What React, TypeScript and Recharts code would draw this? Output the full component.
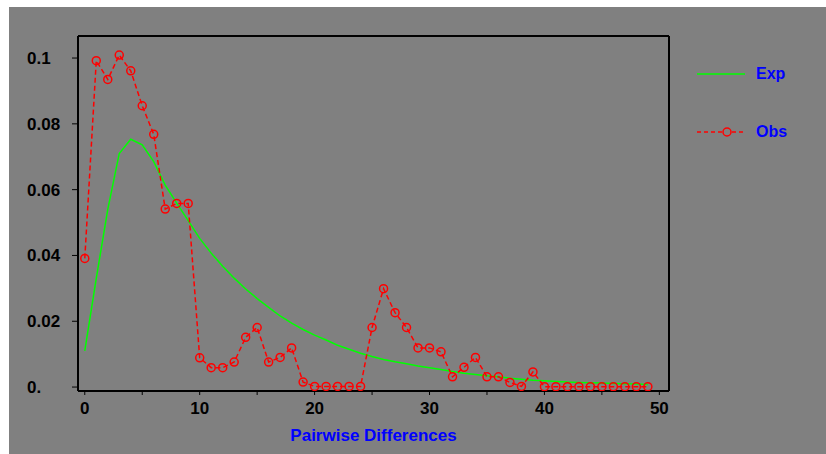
import { LineChart, Line, XAxis, YAxis, Legend, ReferenceLine } from 'recharts';

// pairwise differences (x categories)
const diffs = [
  0, 1, 2, 3, 4, 5, 6, 7, 8, 9, 10, 11, 12, 13, 14, 15, 16, 17, 18, 19, 20, 21, 22, 23, 24,
  25, 26, 27, 28, 29, 30, 31, 32, 33, 34, 35, 36, 37, 38, 39, 40, 41, 42, 43, 44, 45, 46, 47, 48, 49,
];

// expected mismatch distribution
const expValues = [
  0.011, 0.033, 0.054, 0.071, 0.0753, 0.0736, 0.0685, 0.0614, 0.0559, 0.0506,
  0.0452, 0.0407, 0.0367, 0.0331, 0.0298, 0.0269, 0.0242, 0.0216, 0.0194, 0.0175,
  0.0158, 0.0143, 0.0127, 0.0115, 0.0103, 0.0093, 0.0084, 0.0077, 0.0071, 0.0064,
  0.0059, 0.0053, 0.0047, 0.0042, 0.0038, 0.0034, 0.0031, 0.0027, 0.0024, 0.0021,
  0.0019, 0.0017, 0.0015, 0.0014, 0.0013, 0.0012, 0.0011, 0.001, 0.0009, 0.0008,
];

// observed mismatch distribution
const obsValues = [
  0.0391, 0.0992, 0.0935, 0.1009, 0.0961, 0.0855, 0.0768, 0.0541, 0.0558, 0.0558,
  0.0089, 0.0059, 0.0059, 0.0076, 0.0151, 0.0181, 0.0076, 0.009, 0.0119, 0.0015,
  0.0002, 0.0002, 0.0002, 0.0002, 0.0002, 0.0181, 0.0299, 0.0226, 0.0181, 0.0119,
  0.0119, 0.0107, 0.0031, 0.006, 0.009, 0.0031, 0.0031, 0.0014, 0.0002, 0.0046,
  0.0001, 0.0001, 0.0001, 0.0001, 0.0001, 0.0001, 0.0001, 0.0001, 0.0001, 0.0001,
];

const xTicks = [0, 5, 10, 15, 20, 25, 30, 35, 40, 45, 50];
const yTicks = [0, 0.02, 0.04, 0.06, 0.08, 0.1];
const yTickLabels = ['0.', '0.02', '0.04', '0.06', '0.08', '0.1'];

const xDomain = [-0.59, 50.84];
const yDomain = [-0.0012, 0.1067];

const data = diffs.map((d, i) => ({ diff: d, Exp: expValues[i], Obs: obsValues[i] }));

const FONT = "'Liberation Sans', Arial, sans-serif";

const YTick = (props: any) => {
  const { y, payload } = props;
  const label = yTickLabels[yTicks.indexOf(payload.value)];
  return (
    <text x={27} y={y} dy="0.355em" textAnchor="start" fontFamily={FONT} fontWeight="bold" fontSize={17} fill="#000">
      {label}
    </text>
  );
};

const renderLegend = (props: any) => {
  const { payload } = props;
  return (
    <div>
      {payload.map((entry: any, i: number) => {
        const dashed = entry.value === 'Obs';
        return (
          <div key={entry.value} style={{ display: 'flex', alignItems: 'center', height: 20, marginBottom: i === 0 ? 38 : 0 }}>
            <svg width={52} height={20} style={{ display: 'block' }}>
              <line x1={0} y1={10} x2={48} y2={10} stroke={entry.color} strokeWidth={1.5} strokeDasharray={dashed ? '4 3' : undefined} />
              {dashed && <circle cx={30} cy={10} r={4} stroke={entry.color} strokeWidth={1.5} fill="#808080" />}
            </svg>
            <span style={{ marginLeft: 7, color: '#0000ff', fontFamily: FONT, fontWeight: 'bold', fontSize: 16 }}>{entry.value}</span>
          </div>
        );
      })}
    </div>
  );
};

export default function App() {
  return (
    <div style={{ position: 'absolute', left: 0, top: 0, width: 826, height: 454, background: '#fff' }}>
      <div style={{ position: 'absolute', left: 9, top: 7, width: 817, height: 447, background: '#808080' }} />
      <div style={{ position: 'absolute', left: 0, top: 0 }}>
        <LineChart width={826} height={454} data={data} margin={{ top: 36, right: 157, bottom: 0, left: 0 }}>
          <XAxis
            dataKey="diff"
            type="number"
            domain={xDomain}
            allowDataOverflow
            ticks={xTicks}
            interval={0}
            tickFormatter={(v: number) => (v % 10 === 0 ? String(v) : '')}
            height={63}
            tickSize={4}
            tickMargin={7}
            stroke="#000"
            axisLine={{ stroke: '#000', strokeWidth: 2 }}
            tick={{ fill: '#000', fontFamily: FONT, fontWeight: 'bold', fontSize: 17 }}
            label={{ value: 'Pairwise Differences', position: 'insideBottom', offset: 13, fill: '#0000ff', fontFamily: FONT, fontWeight: 'bold', fontSize: 17 }}
          />
          <YAxis
            type="number"
            domain={yDomain}
            allowDataOverflow
            ticks={yTicks}
            interval={0}
            width={78}
            tickSize={6}
            stroke="#000"
            axisLine={{ stroke: '#000', strokeWidth: 2 }}
            tick={<YTick />}
          />
          {/* top and right edges of the plot frame */}
          <ReferenceLine y={yDomain[1]} stroke="#000" strokeWidth={2} ifOverflow="visible" />
          <ReferenceLine x={xDomain[1]} stroke="#000" strokeWidth={2} ifOverflow="visible" />
          <Legend
            layout="vertical"
            align="center"
            verticalAlign="middle"
            content={renderLegend}
            wrapperStyle={{ left: 697, top: 64, width: 120, height: 'auto' }}
          />
          <Line type="linear" dataKey="Exp" stroke="#00ff00" strokeWidth={1.5} dot={false} isAnimationActive={false} />
          <Line
            type="linear"
            dataKey="Obs"
            stroke="#ff0000"
            strokeWidth={1.5}
            strokeDasharray="5 3"
            dot={{ r: 4, stroke: '#ff0000', strokeWidth: 1.5, fill: 'none', strokeDasharray: 'none' }}
            isAnimationActive={false}
          />
        </LineChart>
      </div>
    </div>
  );
}
